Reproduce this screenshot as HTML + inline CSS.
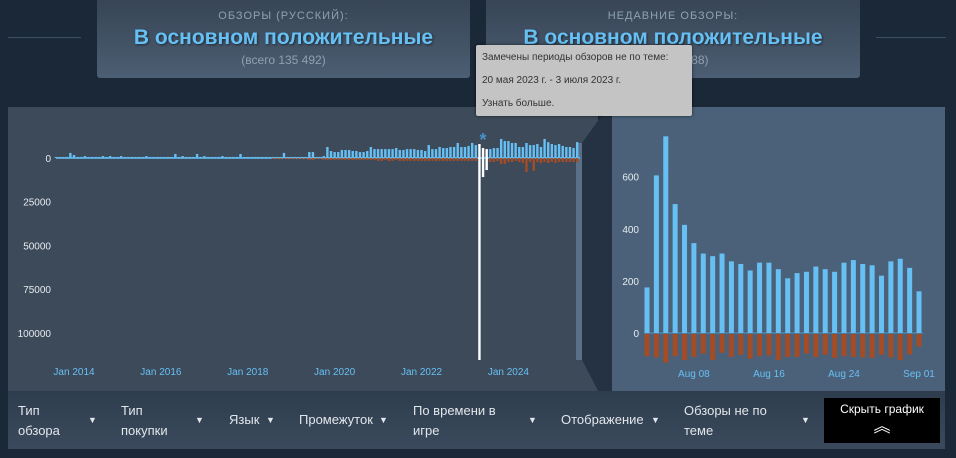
<!DOCTYPE html>
<html><head><meta charset="utf-8">
<style>
*{margin:0;padding:0;box-sizing:border-box}
body{width:956px;height:458px;background:#1b2838;font-family:"Liberation Sans",Arial,sans-serif;position:relative;overflow:hidden}
.box{position:absolute;top:0;height:78px;border-radius:0 0 3px 3px;background:linear-gradient(to bottom,#374555,#4c5e73);text-align:center}
.box .t{margin-top:10px;font-size:11px;letter-spacing:1px;color:#8fa1b0}
.box .b{margin-top:4px;font-size:21px;font-weight:bold;color:#66c0f4;text-shadow:1px 1px 2px rgba(0,0,0,.5)}
.box .s{margin-top:3px;font-size:12px;color:#8fa1b0}
.hl{position:absolute;top:37px;height:1px;background:#3d4f63}
.tip{position:absolute;left:476px;top:45px;width:216px;height:71px;background:#c4c4c4;border-radius:2px;box-shadow:0 0 3px rgba(0,0,0,.6);font-size:10px;color:#333;padding:7px 6px}
.tip div{height:23px}
.bar{position:absolute;left:8px;top:391px;width:937px;height:58px;background:linear-gradient(to bottom,#2e3d4e,#3a4a5c);}
.it{position:absolute;font-size:13px;color:#e2e6ea;line-height:20px}
.ar{position:absolute;font-size:9px;color:#e2e6ea}
.btn{position:absolute;left:824px;top:398px;width:116px;height:45px;background:#000;color:#fff;font-size:12px;text-align:center;padding-top:4px}
</style></head><body>
<div class="hl" style="left:8px;width:73px"></div>
<div class="hl" style="left:876px;width:70px"></div>
<div class="box" style="left:97px;width:373px">
<div class="t">ОБЗОРЫ (РУССКИЙ):</div>
<div class="b">В основном положительные</div>
<div class="s">(всего 135 492)</div></div>
<div class="box" style="left:486px;width:374px">
<div class="t">НЕДАВНИЕ ОБЗОРЫ:</div>
<div class="b">В основном положительные</div>
<div class="s">(всего 7 388)</div></div>

<svg id="ch" width="956" height="458" style="position:absolute;left:0;top:0">
<rect x="8" y="107" width="590" height="284" fill="#3d4a5a"/>
<polygon points="582,143 600,118 612,107 612,391 598,391 582,360" fill="#243243"/>
<polygon points="582,360 598,391 582,391" fill="#3d4a5a"/>
<rect x="612" y="107" width="333" height="284" fill="#4b6179"/>
<rect x="576" y="143" width="6" height="217" fill="#5a7087"/>
<g id="L"></g><g id="R"></g>
</svg>

<div class="tip">
<div>Замечены периоды обзоров не по теме:</div>
<div>20 мая 2023 г. - 3 июля 2023 г.</div>
<div>Узнать больше.</div></div>

<div class="bar"></div>
<div class="it" style="left:18px;top:401px">Тип<br>обзора</div><div class="ar" style="left:88px;top:415px">▼</div>
<div class="it" style="left:121px;top:401px">Тип<br>покупки</div><div class="ar" style="left:195px;top:415px">▼</div>
<div class="it" style="left:229px;top:410px">Язык</div><div class="ar" style="left:266px;top:415px">▼</div>
<div class="it" style="left:299px;top:410px">Промежуток</div><div class="ar" style="left:379px;top:415px">▼</div>
<div class="it" style="left:413px;top:401px">По времени в<br>игре</div><div class="ar" style="left:528px;top:415px">▼</div>
<div class="it" style="left:561px;top:410px">Отображение</div><div class="ar" style="left:651px;top:415px">▼</div>
<div class="it" style="left:684px;top:401px">Обзоры не по<br>теме</div><div class="ar" style="left:801px;top:415px">▼</div>
<div class="btn">Скрыть график<br><span style="font-size:17px;line-height:22px">︽</span></div>

<script>
// Overall monthly reviews, Aug 2013 .. Aug 2025
const monthsStart = [2013, 7];
const overallPos = [600,600,600,600,2900,1700,600,600,1100,600,600,600,600,1100,600,1100,600,600,1100,600,600,600,600,600,600,1100,600,600,600,600,600,600,600,2300,600,1100,600,600,600,2300,600,1100,600,600,600,600,1100,600,600,600,600,2300,600,600,600,600,600,600,600,600,600,600,600,2900,600,600,600,600,600,600,3400,3400,600,600,1100,6300,
4000,3400,3400,4600,4600,4600,4000,4000,3400,3400,
4000,6300,5100,5100,5100,5100,5100,5100,5700,4600,
4600,5100,5100,5100,4600,4600,4000,7400,5100,5100,
6300,5700,5700,6300,6300,8600,6300,6300,6900,8600,
7400,8000,5700,5100,5100,5700,5700,10900,9700,9700,
8600,8600,6300,6300,8600,7400,7400,8000,6300,10900,
9100,8000,7400,8000,6900,6300,6300,5700,9100];
const overallNeg = [0,0,0,0,0,0,0,0,0,0,0,0,0,0,0,0,0,0,0,0,0,0,0,0,0,0,0,0,0,0,0,0,0,0,0,0,0,0,0,0,0,0,0,0,0,0,0,0,0,0,0,0,0,0,0,0,0,0,0,0,600,600,600,600,600,600,600,600,600,600,1100,1100,600,600,1100,1100,
1100,1100,1100,1100,1100,1100,1100,1100,1100,1100,1100,1100,1100,1700,1700,1100,1700,1700,1100,1700,
1700,1700,1700,1700,1700,1700,1700,1700,1700,1700,1700,1700,1700,1700,1700,1700,1700,1700,1700,1700,1700,
116000,10900,6900,
2300,2300,1700,3400,3400,2300,2300,1700,2300,2900,8000,2300,7400,2300,2900,2300,2900,2300,2900,2300,2300,2300,2300,2300,2300];
const offTopic = [117,118,119];
const overallTicks = [0,25000,50000,75000,100000];
const yearLabels = ["Jan 2014","Jan 2016","Jan 2018","Jan 2020","Jan 2022","Jan 2024"];
const yearMonthIdx = [5,29,53,77,101,125];

// Recent daily reviews Aug 03 .. Sep 01
const recentPos = [175,605,755,495,415,345,305,295,305,275,265,240,270,270,245,210,230,235,255,245,235,270,280,265,260,220,275,285,250,160];
const recentNeg = [85,90,110,85,100,88,75,100,72,88,80,95,85,82,100,88,88,75,88,80,92,85,88,90,92,80,90,100,78,48];
const recentTicks = [0,200,400,600];
const recentLabels = ["Aug 08","Aug 16","Aug 24","Sep 01"];
const recentLabelIdx = [5,13,21,29];

const NS="http://www.w3.org/2000/svg";
function mk(p,t,a){const e=document.createElementNS(NS,t);for(const k in a)e.setAttribute(k,a[k]);p.appendChild(e);return e;}
const L=document.getElementById('L'),R=document.getElementById('R');
const lx=i=>74+(i-5)*3.62, ly=v=>158-v*43.7/25000;
overallTicks.forEach(v=>{const t=mk(L,'text',{x:51,y:ly(-v)+4,'text-anchor':'end','font-size':10,fill:'#e6ebef'});t.textContent=v;

});
yearLabels.forEach((s,k)=>{const t=mk(L,'text',{x:lx(yearMonthIdx[k]),y:375,'text-anchor':'middle','font-size':10,fill:'#66c0f4'});t.textContent=s;

});
mk(L,'line',{x1:56,x2:580,y1:158,y2:158,stroke:'#66c0f4','stroke-width':1.5});
overallPos.forEach((v,i)=>{const w=offTopic.includes(i);const x=lx(i)-1.2;
const r=mk(L,'rect',{x:x,y:ly(v),width:2.4,height:158-ly(v),fill:w?'#ffffff':'#66c0f4'});


const n=overallNeg[i];if(n>0){const q=mk(L,'rect',{x:x,y:158,width:2.4,height:Math.min(ly(-n)-158,202),fill:w?'#ffffff':'#a34c25'});

}});
const st=mk(L,'text',{x:lx(offTopic[1]),y:146,'text-anchor':'middle','font-size':18,'font-weight':'bold',fill:'#4a90c8'});st.textContent='*';


const rx=i=>647+i*9.38, ry=v=>333-v*0.2605;
recentTicks.forEach(v=>{const t=mk(R,'text',{x:639,y:ry(v)+4,'text-anchor':'end','font-size':10,fill:'#e6ebef'});t.textContent=v;

});
recentLabels.forEach((s,k)=>{const t=mk(R,'text',{x:rx(recentLabelIdx[k]),y:377,'text-anchor':'middle','font-size':10,fill:'#66c0f4'});t.textContent=s;

});
mk(R,'line',{x1:644,x2:923,y1:333,y2:333,stroke:'#5a8fb8','stroke-width':1});
recentPos.forEach((v,i)=>{const r=mk(R,'rect',{x:rx(i)-2.5,y:ry(v),width:5,height:333-ry(v),fill:'#66c0f4'});


const q=mk(R,'rect',{x:rx(i)-2.5,y:334,width:5,height:ry(-recentNeg[i])-333,fill:'#a34c25'});

});
</script>
</body></html>
